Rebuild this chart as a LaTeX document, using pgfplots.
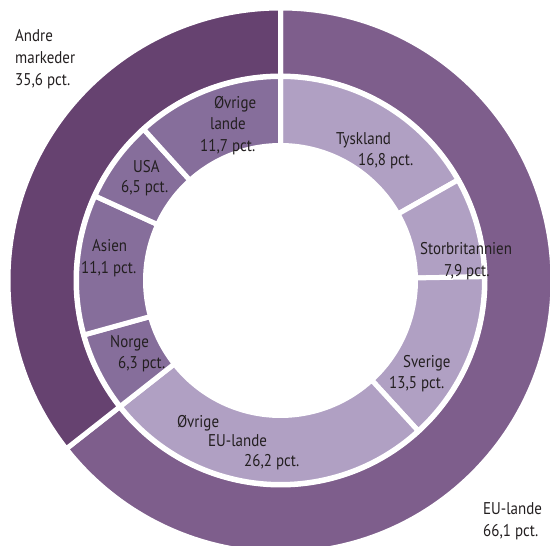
\documentclass[border=0pt]{standalone}
\usepackage{pgfplots}
\usepackage{pgfplotstable}
\pgfplotsset{compat=1.18}
\usepackage{fontspec}
\setmainfont{PT Sans}[FakeStretch=0.88]
\definecolor{outerEU}{HTML}{7E5E8C}
\definecolor{outerAndre}{HTML}{664270}
\definecolor{innerEU}{HTML}{B0A0C3}
\definecolor{innerOther}{HTML}{866E9B}
\definecolor{txt}{HTML}{231F20}
\tikzset{lab/.style={text=txt, font=\fontsize{17}{21}\selectfont, anchor=base west, inner sep=0pt}}

% inner ring: shares in per cent, grp 1 = EU, 2 = other markets
\pgfplotstableread{
label value grp
Tyskland 16.8 1
Storbritannien 7.9 1
Sverige 13.5 1
OvrigeEU 26.2 1
Norge 6.3 2
Asien 11.1 2
USA 6.5 2
OvrigeLande 11.7 2
}\innerdata
% outer ring
\pgfplotstableread{
label value grp
EU 64.4 1
Andre 35.6 2
}\outerdata

\def\cx{280.5}\def\cy{265.5}

\newcommand\ringsegs[5]{% table, r0, r1, colour grp1, colour grp2
  \pgfplotstablegetrowsof{#1}\pgfmathtruncatemacro\nlast{\pgfplotsretval-1}%
  \def\cum{0}%
  \pgfplotsforeachungrouped \i in {0,...,\nlast}{%
    \pgfplotstablegetelem{\i}{value}\of{#1}\let\v\pgfplotsretval
    \pgfplotstablegetelem{\i}{grp}\of{#1}\let\g\pgfplotsretval
    \pgfmathsetmacro\aS{90-3.6*\cum}%
    \pgfmathsetmacro\aE{90-3.6*(\cum+\v)}%
    \pgfmathsetmacro\cum{\cum+\v}%
    \ifnum\g=1 \def\col{#4}\else\def\col{#5}\fi
    \fill[\col, draw=white, line width=5pt, line join=miter]
      (axis cs:{\cx+#3*cos(\aS)},{\cy+#3*sin(\aS)})
      arc[start angle=\aS, end angle=\aE, radius=#3pt]
      -- (axis cs:{\cx+#2*cos(\aE)},{\cy+#2*sin(\aE)})
      arc[start angle=\aE, end angle=\aS, radius=#2pt] -- cycle;
  }}
% label line: x (left), y (baseline, from top), text
\newcommand\lab[3]{\node[lab] at (axis cs:#1,{546-#2}) {#3};}

\begin{document}
\begin{tikzpicture}
\begin{axis}[name=ax, x=1pt, y=1pt, xmin=0, xmax=550, ymin=0, ymax=546,
  hide axis, anchor=south west, at={(0,0)}, clip=true]
\pgfplotsextra{%
  \ringsegs{\outerdata}{204.5}{272.5}{outerEU}{outerAndre}%
  \ringsegs{\innerdata}{135}{204}{innerEU}{innerOther}%
}
\lab{214}{109}{Øvrige}
\lab{210}{130}{lande}
\lab{200}{152}{11,7 pct.}
\lab{336}{145}{Tyskland}
\lab{358}{166}{16,8 pct.}
\lab{133}{173}{USA}
\lab{121}{193}{6,5 pct.}
\lab{92}{252}{Asien}
\lab{81}{274}{11,1 pct.}
\lab{110}{348}{Norge}
\lab{118}{369}{6,3 pct.}
\lab{420}{255}{Storbritannien}
\lab{444}{277}{7,9 pct.}
\lab{403}{368}{Sverige}
\lab{389}{389}{13,5 pct.}
\lab{177}{428}{Øvrige}
\lab{208}{447}{EU-lande}
\lab{244}{467}{26,2 pct.}
\lab{15}{42}{Andre}
\lab{15}{64}{markeder}
\lab{15}{86}{35,6 pct.}
\lab{483}{515}{EU-lande}
\lab{483}{537}{66,1 pct.}
\end{axis}
\pgfresetboundingbox
\useasboundingbox (ax.south west) rectangle (ax.north east);
\end{tikzpicture}
\end{document}
